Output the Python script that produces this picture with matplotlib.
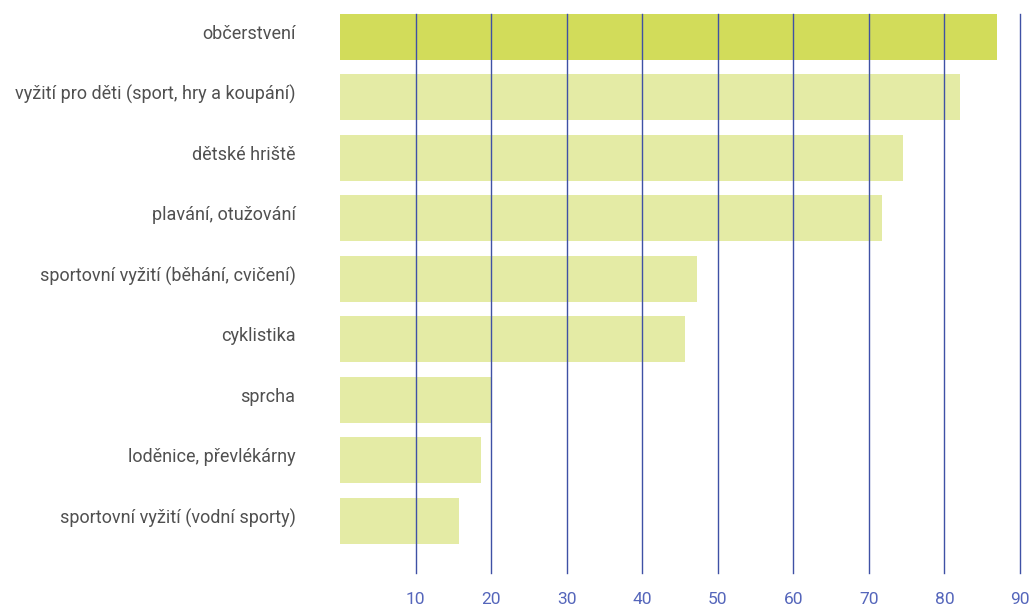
import matplotlib
matplotlib.use("Agg")
import matplotlib.pyplot as plt
import matplotlib.transforms as mtransforms

categories = [
    "občerstvení",
    "vyžití pro děti (sport, hry a koupání)",
    "dětské hriště",
    "plavání, otužování",
    "sportovní vyžití (běhání, cvičení)",
    "cyklistika",
    "sprcha",
    "loděnice, převlékárny",
    "sportovní vyžití (vodní sporty)",
]
values = [87, 82, 74.5, 71.8, 47.3, 45.7, 20, 18.6, 15.8]
xticks = [10, 20, 30, 40, 50, 60, 70, 80, 90]

plt.rcParams['font.family'] = ['Roboto', 'DejaVu Sans']

fig = plt.figure(figsize=(10.32, 6.06), dpi=100)
ax = fig.add_axes([340/1032, 1-573/606, 680/1032, 559/606])

colors = ['#d2dc5a'] + ['#e4eba5'] * (len(values) - 1)
y = list(range(len(categories)))
ax.barh(y, values, height=0.76, color=colors, zorder=1)

ax.set_xlim(0, 90)
ax.set_ylim(8.86, -0.38)
ax.set_xticks(xticks)
ax.set_xticklabels([str(t) for t in xticks], color='#5566bb', fontsize=12.5)
ax.set_yticks(y)
ax.set_yticklabels(categories, color='#505050', fontsize=13)
ax.tick_params(axis='x', length=0, pad=14)
ax.tick_params(axis='y', length=0, pad=32)
offset = mtransforms.ScaledTranslation(0, 5/100, fig.dpi_scale_trans)
for lab in ax.get_yticklabels():
    lab.set_transform(lab.get_transform() + offset)
for t in xticks:
    ax.axvline(t, color='#3f51a5', linewidth=1.0, zorder=2, clip_on=False)
for s in ax.spines.values():
    s.set_visible(False)

fig.savefig("out.png", dpi=100)
